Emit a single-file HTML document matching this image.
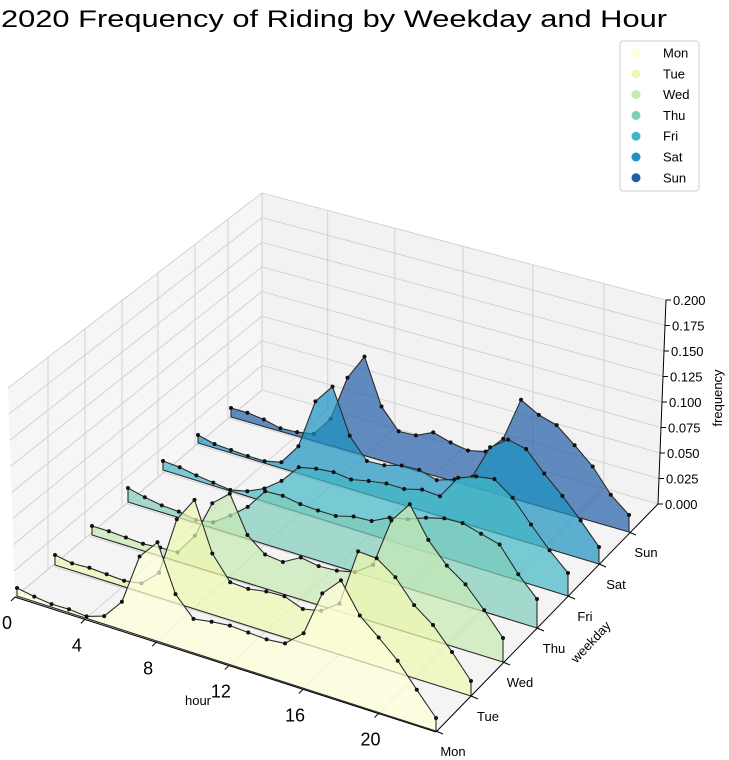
<!DOCTYPE html>
<html><head><meta charset="utf-8">
<style>
html,body{margin:0;padding:0;background:#fff;}
svg{display:block;font-family:"Liberation Sans",sans-serif;}
</style></head>
<body>
<svg id="chart" width="729" height="760" viewBox="0 0 729 760">
  <text x="334" y="27" text-anchor="middle" font-size="24" textLength="666" lengthAdjust="spacingAndGlyphs">2020 Frequency of Riding by Weekday and Hour</text>
  <polygon points="8,388 262,193 262,390 15,597" fill="#f6f6f6"/>
  <polygon points="262,193 666,300 658,504 262,390" fill="#f2f2f2"/>
  <polygon points="15,597 262,390 658,504 436,732" fill="#f4f4f4"/>
  <g id="grid"></g>
  <g id="series"></g>
  <g id="axes"></g>
  <text x="198" y="705" text-anchor="middle" font-size="13">hour</text>
  <text x="0" y="0" transform="translate(594,645) rotate(-47)" text-anchor="middle" font-size="13">weekday</text>
  <text x="0" y="0" transform="translate(722,398) rotate(-90)" text-anchor="middle" font-size="13">frequency</text>
  <g>
    <rect x="620" y="41" width="79" height="150" rx="3" fill="#fff" stroke="#cccccc"/>
    <g id="legend-items"></g>
  </g>
</svg>
<script>
const weekdays = ['Mon','Tue','Wed','Thu','Fri','Sat','Sun'];
const hours = [0,1,2,3,4,5,6,7,8,9,10,11,12,13,14,15,16,17,18,19,20,21,22,23];
const monFreq = [0.008,0.005,0.003,0.0035,0.002,0.008,0.028,0.079,0.099,0.053,0.034,0.037,0.039,0.038,0.037,0.039,0.055,0.101,0.120,0.091,0.075,0.058,0.035,0.013];
const tueFreq = [0.010,0.007,0.008,0.007,0.006,0.009,0.025,0.084,0.109,0.061,0.038,0.037,0.040,0.041,0.034,0.038,0.051,0.109,0.108,0.095,0.073,0.059,0.038,0.015];
const wedFreq = [0.009,0.009,0.008,0.007,0.0085,0.009,0.031,0.069,0.084,0.048,0.034,0.032,0.042,0.039,0.040,0.044,0.057,0.107,0.129,0.099,0.079,0.066,0.046,0.024];
const thuFreq = [0.014,0.010,0.007,0.006,0.003,0.006,0.018,0.032,0.053,0.054,0.051,0.050,0.050,0.055,0.056,0.065,0.069,0.076,0.081,0.082,0.077,0.072,0.048,0.029];
const friFreq = [0.009,0.008,0.005,0.003,0.001,0.005,0.013,0.026,0.045,0.049,0.051,0.049,0.053,0.056,0.056,0.061,0.060,0.084,0.091,0.094,0.081,0.060,0.040,0.023];
const satFreq = [0.008,0.004,0.003,0.002,0.002,0.006,0.027,0.077,0.097,0.053,0.033,0.034,0.039,0.040,0.035,0.041,0.049,0.084,0.097,0.093,0.074,0.057,0.038,0.017];
const sunFreq = [0.009,0.009,0.007,0.003,0.004,0.007,0.027,0.073,0.099,0.054,0.034,0.035,0.043,0.038,0.035,0.039,0.057,0.101,0.091,0.086,0.071,0.055,0.032,0.017];
const seriesValues = [monFreq,tueFreq,wedFreq,thuFreq,friFreq,satFreq,sunFreq];
const hourTicks = [0,4,8,12,16,20];
const zTicks = ['0.000','0.025','0.050','0.075','0.100','0.125','0.150','0.175','0.200'];
const zTickValues = [0,0.025,0.05,0.075,0.1,0.125,0.15,0.175,0.2];

// ---- layout / projection (geometry, not data) ----
const colors = ['#ffffd9','#edf8b1','#c7e9b4','#7fcdbb','#41b6c4','#1d91c0','#225ea8'];
const DX0=[17,55,92,128,163,198,231], DY0=[596,565,535,502,470,443,417];
const DX1=[436,471,503,537,568,599,629], DY1=[731,696,662,628,596,564,532];
const ZS = 1000, HMAX = 23, WARP = 0.055;
function ht(h){ const t=h/HMAX; return t - WARP*t*(1-t); }
function proj(h,d,z){
  const t=ht(h);
  return [DX0[d]+(DX1[d]-DX0[d])*t, DY0[d]+(DY1[d]-DY0[d])*t - z*ZS];
}
function hourFront(h){ const t=ht(h); return [15+t*421, 597+t*135]; }
function hourBack(h){ const t=ht(h); return [262+t*396, 390+t*114]; }
function zBackLeft(v){ return [262, 390 - v/0.2*197]; }
function zBackRight(v){ return [658 + v/0.2*8, 504 - v/0.2*204]; }
function zLeftFront(v){ return [15 - v/0.2*7, 597 - v/0.2*209]; }
const NS='http://www.w3.org/2000/svg';
function mk(tag,attrs,parent){const e=document.createElementNS(NS,tag);for(const k in attrs)e.setAttribute(k,attrs[k]);parent.appendChild(e);return e;}

const grid=document.getElementById('grid');
const gs='#cfcfcf';
zTickValues.forEach((v,i)=>{
  const a=zBackLeft(v), b=zBackRight(v), c=zLeftFront(v);
  const l1=mk('line',{x1:a[0],y1:a[1],x2:b[0],y2:b[1],stroke:gs,'stroke-width':0.9},grid);
  
  
  const l2=mk('line',{x1:c[0],y1:c[1],x2:a[0],y2:a[1],stroke:gs,'stroke-width':0.9},grid);
  
  
});
[48,85,122,158,195,228,262].forEach(x=>{
  const yt=388+(x-8)*(193-388)/254, yb=597+(x-15)*(390-597)/247;
  const l=mk('line',{x1:x,y1:yt,x2:x,y2:yb,stroke:gs,'stroke-width':0.9},grid);
  
  
});
hourTicks.forEach(h=>{
  const f=hourFront(h), b=hourBack(h);
  const l=mk('line',{x1:f[0],y1:f[1],x2:b[0],y2:b[1],stroke:gs,'stroke-width':0.9},grid);
  
  
  const top=[b[0], 193+(b[0]-262)*107/404];
  const l2=mk('line',{x1:b[0],y1:b[1],x2:top[0],y2:top[1],stroke:gs,'stroke-width':0.9},grid);
  
  
});
weekdays.forEach((w,d)=>{
  const a=proj(0,d,0), b=proj(HMAX,d,0);
  const l=mk('line',{x1:a[0]-2,y1:a[1]+1.5,x2:b[0],y2:b[1],stroke:gs,'stroke-width':0.9},grid);
  
  
});

const sg=document.getElementById('series');
for(let d=weekdays.length-1; d>=0; d--){
  const vals=seriesValues[d];
  const g=mk('g',{},sg);
  
  
  const pts=[proj(hours[0],d,0)];
  hours.forEach((h,i)=>pts.push(proj(h,d,vals[i])));
  pts.push(proj(hours[hours.length-1],d,0));
  const poly=mk('polygon',{points:pts.map(p=>p[0].toFixed(1)+','+p[1].toFixed(1)).join(' '),fill:colors[d],'fill-opacity':0.7,stroke:'#2b2b2b','stroke-width':1.1,'stroke-linejoin':'round'},g);
  
  
  hours.forEach((h,i)=>{
    const p=proj(h,d,vals[i]);
    const c=mk('circle',{cx:p[0].toFixed(1),cy:p[1].toFixed(1),r:2,fill:'#111'},g);
    
    
  });
}

const ax=document.getElementById('axes');
const xl=mk('line',{x1:15,y1:597,x2:436,y2:732,stroke:'#000','stroke-width':1},ax);


const yl=mk('line',{x1:436,y1:732,x2:658,y2:504,stroke:'#000','stroke-width':1},ax);


const zl=mk('line',{x1:658,y1:504,x2:666,y2:300,stroke:'#000','stroke-width':1},ax);


hourTicks.forEach(h=>{
  const f=hourFront(h);
  const t=mk('line',{x1:f[0],y1:f[1],x2:f[0]-4,y2:f[1]+4,stroke:'#000','stroke-width':1},ax);
  
  
  const tx=mk('text',{x:f[0]-8,y:f[1]+32,'text-anchor':'middle','font-size':18},ax);
  tx.textContent=String(h);
  
  
});
weekdays.forEach((w,d)=>{
  const p=proj(HMAX,d,0);
  const t=mk('line',{x1:p[0],y1:p[1],x2:p[0]+7,y2:p[1]+3,stroke:'#000','stroke-width':1},ax);
  
  
  const tx=mk('text',{x:p[0]+17,y:p[1]+25,'text-anchor':'middle','font-size':13},ax);
  tx.textContent=w;
  
  
});
zTickValues.forEach((v,i)=>{
  const p=zBackRight(v);
  const t=mk('line',{x1:p[0],y1:p[1],x2:p[0]+5,y2:p[1],stroke:'#000','stroke-width':1},ax);
  
  
  const tx=mk('text',{x:p[0]+7,y:p[1]+5,'font-size':13},ax);
  tx.textContent=zTicks[i];
  
  
});

const lg=document.getElementById('legend-items');
weekdays.forEach((w,d)=>{
  const y=53+d*20.8;
  const g=mk('g',{},lg);
  
  
  const c=mk('circle',{cx:636,cy:y,r:4.5,fill:colors[d]},g);
  
  
  const t=mk('text',{x:663,y:y+4.5,'font-size':13},g);
  t.textContent=w;
  
  
});
</script>
</body></html>
